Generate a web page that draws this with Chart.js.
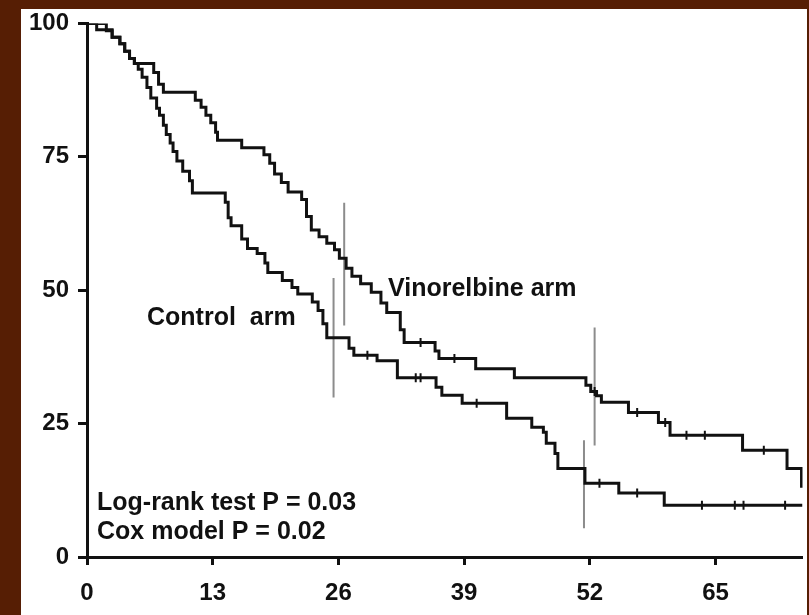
<!DOCTYPE html>
<html>
<head>
<meta charset="utf-8">
<script src="https://cdn.jsdelivr.net/npm/chart.js@4.4.1/dist/chart.umd.min.js"></script>
<style>
  html, body { margin: 0; padding: 0; background: #561e04; width: 809px; height: 615px; overflow: hidden; }
  #panel { position: absolute; left: 21px; top: 9px; width: 786px; height: 606px; background: #fff; }
  #km { position: absolute; left: 0; top: 0; }
</style>
</head>
<body>
<div id="panel"></div>
<canvas id="km" width="809" height="615"></canvas>
<script>
// survival (%) after each event, weeks
const vinoTimes = [0, 2.0, 2.6, 3.4, 3.9, 4.4, 4.9, 6.9, 7.4, 7.9, 11.2, 11.8, 12.3, 12.8, 13.3, 13.5, 16.0, 18.3, 18.9, 19.4, 20.1, 20.8, 22.2, 22.7, 23.2, 24.0, 24.8, 25.6, 26.1, 26.8, 27.4, 28.3, 29.4, 30.4, 31.0, 32.4, 32.8, 36.0, 36.4, 40.2, 44.2, 51.6, 52.1, 52.7, 53.2, 56.0, 59.1, 60.3, 67.8, 72.4, 73.9];
const vinoSurv  = [100, 98.6, 97.4, 96.2, 94.8, 93.4, 92.5, 90.8, 88.6, 87.1, 85.6, 84.3, 82.8, 81.4, 79.6, 78.1, 76.7, 75.4, 73.8, 71.8, 70.2, 68.4, 67.0, 63.8, 61.3, 60.0, 58.8, 57.6, 56.0, 54.1, 52.6, 51.2, 49.6, 47.6, 45.8, 42.6, 40.2, 38.6, 37.2, 35.3, 33.6, 32.2, 31.0, 30.2, 29.0, 27.1, 25.2, 22.8, 20.0, 16.6, 13.0];

const ctrlTimes = [0, 1.0, 2.6, 3.4, 3.9, 4.4, 4.9, 5.3, 5.7, 6.2, 6.6, 7.2, 7.5, 7.9, 8.2, 8.6, 8.9, 9.3, 9.9, 10.6, 10.9, 14.3, 14.6, 14.9, 16.0, 16.6, 17.6, 18.4, 18.7, 20.2, 21.2, 21.8, 23.3, 23.9, 24.4, 24.8, 27.1, 27.6, 30.0, 32.1, 36.1, 36.7, 38.8, 43.4, 46.0, 47.2, 47.5, 48.4, 48.7, 51.5, 55.0, 59.7, 74];
const ctrlSurv  = [100, 98.8, 97.4, 96.2, 94.8, 93.4, 92.5, 91.4, 89.9, 88.0, 86.0, 84.1, 82.8, 80.9, 79.2, 77.6, 76.0, 74.2, 72.3, 70.5, 68.2, 66.5, 63.6, 62.1, 59.6, 57.8, 56.9, 55.1, 53.3, 51.8, 50.5, 49.3, 47.8, 46.2, 43.7, 41.1, 39.1, 37.8, 36.8, 33.6, 31.8, 30.3, 28.8, 26.0, 24.3, 23.4, 21.3, 19.4, 16.6, 13.8, 12.0, 9.7, 9.7];

// censored patients
const vinoCensor = [34.5, 38.0, 52.5, 56.9, 59.8, 62.0, 63.9, 70.0];
const ctrlCensor = [29.0, 34.0, 34.5, 40.3, 53.0, 56.9, 63.6, 67.0, 67.9, 72.2];

// grey confidence bars
const ciTimes = [25.5, 26.6, 51.4, 52.5];
const ciLow   = [29.9, 43.4, 5.4, 20.9];
const ciHigh  = [52.3, 66.4, 21.9, 43.0];

const xTicks = [0, 13, 26, 39, 52, 65];
const yTicks = [0, 25, 50, 75, 100];

function survAt(times, surv, t) {
    let s = surv[0];
    for (let i = 0; i < times.length; i++) {
        if (times[i] <= t) s = surv[i];
    }
    return s;
}

function curve(times, surv) {
    return times.map((t, i) => ({x: t, y: surv[i]}));
}

const ink = '#111';
const datasets = [
    {data: curve(vinoTimes, vinoSurv), showLine: true, stepped: true, borderColor: ink, borderWidth: 3, pointRadius: 0},
    {data: curve(ctrlTimes, ctrlSurv), showLine: true, stepped: true, borderColor: ink, borderWidth: 3, pointRadius: 0},
    {data: vinoCensor.map(t => ({x: t, y: survAt(vinoTimes, vinoSurv, t)})), pointStyle: 'line', rotation: 90, pointRadius: 4.5, borderColor: ink, borderWidth: 2},
    {data: ctrlCensor.map(t => ({x: t, y: survAt(ctrlTimes, ctrlSurv, t)})), pointStyle: 'line', rotation: 90, pointRadius: 4.5, borderColor: ink, borderWidth: 2}
];
ciTimes.forEach((t, i) => {
    datasets.push({data: [{x: t, y: ciLow[i]}, {x: t, y: ciHigh[i]}], showLine: true, borderColor: '#8c8c8c', borderWidth: 2, pointRadius: 0});
});

const notes = {
    id: 'notes',
    afterDraw(chart) {
        const c = chart.ctx;
        c.save();
        c.fillStyle = ink;
        c.font = 'bold 25px "Liberation Sans", Arial, sans-serif';
        c.textBaseline = 'alphabetic';
        c.fillText('Vinorelbine arm', 388, 296);
        c.fillText('Control  arm', 147, 325);
        c.fillText('Log-rank test P = 0.03', 97, 510);
        c.fillText('Cox model P = 0.02', 97, 539);
        c.restore();
    }
};

new Chart(document.getElementById('km'), {
    type: 'scatter',
    data: {datasets: datasets},
    plugins: [notes],
    options: {
        responsive: false,
        animation: false,
        layout: {padding: {left: 0, top: 22, right: 3, bottom: 0}},
        plugins: {legend: {display: false}, tooltip: {enabled: false}},
        scales: {
            x: {
                type: 'linear', min: 0, max: 74,
                afterBuildTicks: s => { s.ticks = xTicks.map(v => ({value: v})); },
                afterFit: s => { s.height = 58; },
                ticks: {color: ink, font: {family: '"Liberation Sans", Arial', size: 24, weight: 'bold'}, padding: 14},
                grid: {drawOnChartArea: false, drawTicks: true, tickLength: 8, tickWidth: 3, tickColor: ink},
                border: {color: ink, width: 3}
            },
            y: {
                min: 0, max: 100,
                afterBuildTicks: s => { s.ticks = yTicks.map(v => ({value: v})); },
                afterFit: s => { s.width = 87; },
                ticks: {color: ink, font: {family: '"Liberation Sans", Arial', size: 24, weight: 'bold'}, padding: 9},
                grid: {drawOnChartArea: false, drawTicks: true, tickLength: 9, tickWidth: 3, tickColor: ink},
                border: {color: ink, width: 3}
            }
        }
    }
});
</script>
</body>
</html>
